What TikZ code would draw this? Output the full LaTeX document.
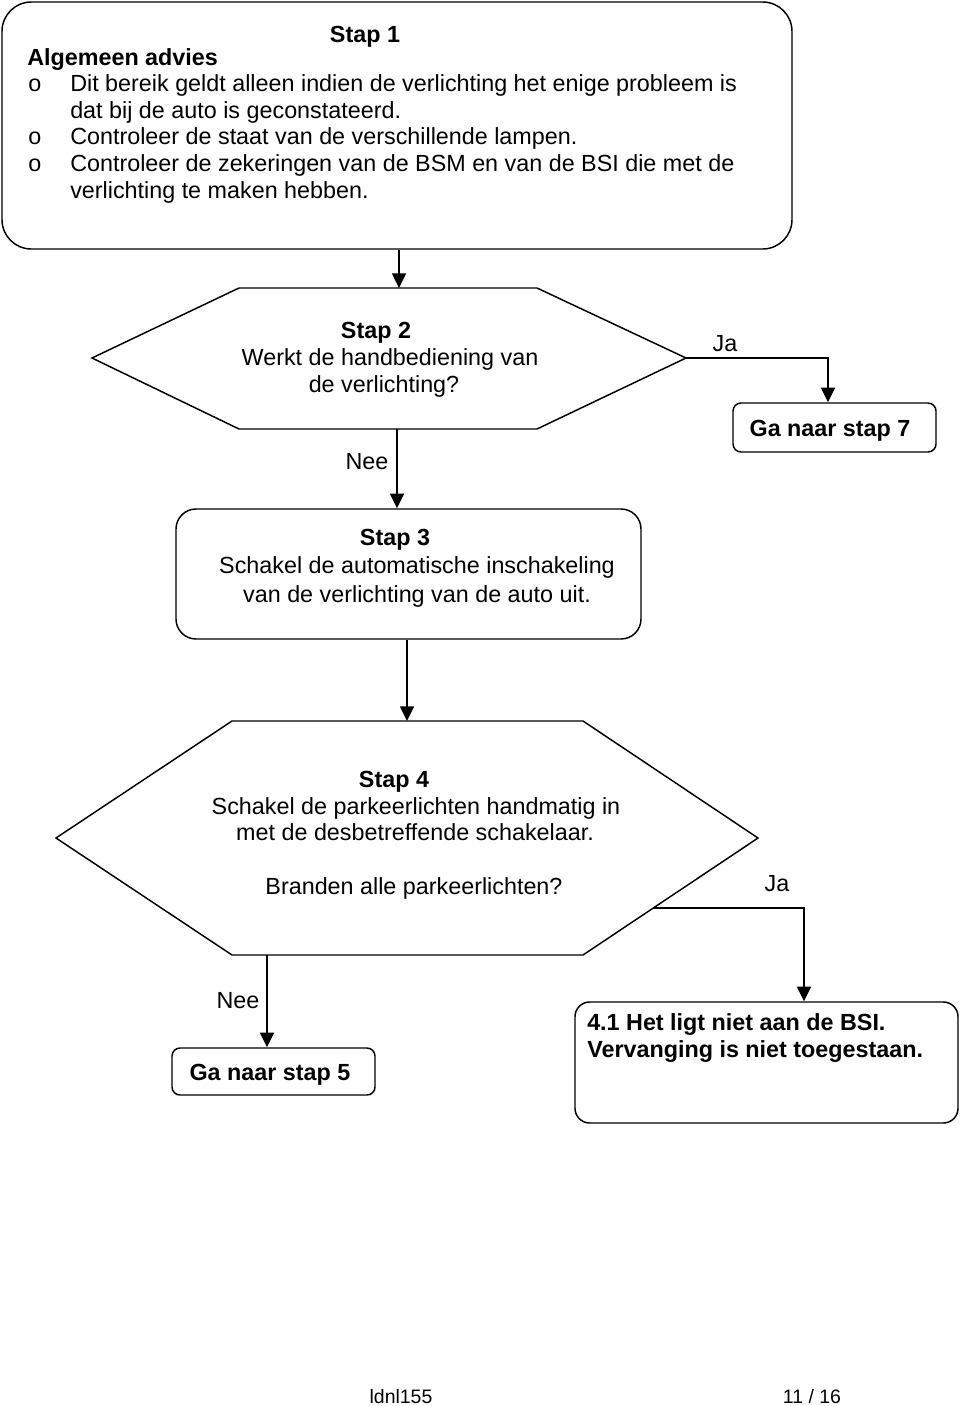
\documentclass[tikz,border=0pt]{standalone}
\usepackage{fontspec}
\setmainfont{Liberation Sans}
\usetikzlibrary{arrows.meta,fit,calc}
\begin{document}
\begin{tikzpicture}[x=0.75pt,y=-0.75pt,
  lw/.style={line width=1.1pt},
  box/.style={draw,lw,inner sep=0pt},
  arr/.style={lw,-{Triangle[length=11pt,width=10.5pt]}},
  txt/.style={font=\fontsize{17.5}{20}\selectfont,inner sep=0pt,anchor=base},
  txtb/.style={txt,font=\fontsize{17.5}{20}\selectfont\bfseries},
  txtl/.style={txt,anchor=base west},
  txtbl/.style={txtb,anchor=base west},
  foot/.style={font=\fontsize{14.6}{17}\selectfont,inner sep=0pt,anchor=base}
]
\fill[white] (0,0) rectangle (960,1406);
\useasboundingbox (0,0) rectangle (960,1406);

% Stap 1
\node[box,rounded corners=22pt,fit={(2,2)(792,249)}] (s1) {};
\node[txtb] (s1t) at (365,42) {Stap 1};
\node[txtbl] (s1a) at (27,65) {Algemeen advies};
\node[txtl] (b1) at (28,91) {o};
\node[txtl] (l1) at (70,91) {Dit bereik geldt alleen indien de verlichting het enige probleem is};
\node[txtl] (l2) at (70,118) {dat bij de auto is geconstateerd.};
\node[txtl] (b2) at (28,144) {o};
\node[txtl] (l3) at (70,144) {Controleer de staat van de verschillende lampen.};
\node[txtl] (b3b) at (28,171) {o};
\node[txtl] (l4) at (70,171) {Controleer de zekeringen van de BSM en van de BSI die met de};
\node[txtl] (l5) at (70,198) {verlichting te maken hebben.};

% Stap 2 hexagon
\coordinate (h1w) at (92,358);
\coordinate (h1nw) at (239,288);
\coordinate (h1ne) at (537,288);
\coordinate (h1e) at (686,358);
\coordinate (h1se) at (537,429);
\coordinate (h1sw) at (239,429);
\draw[lw] (h1w)--(h1nw)--(h1ne)--(h1e)--(h1se)--(h1sw)--cycle;
\coordinate (h1n) at (399,288);
\coordinate (h1s) at (397,429);
\node[txtb] (s2t) at (376,338) {Stap 2};
\node[txt] (s2a) at (390,365) {Werkt de handbediening van};
\node[txt] (s2b) at (384,392) {de verlichting?};

% Ga naar stap 7
\node[box,rounded corners=6pt,fit={(733,403)(936,452)}] (g7) {};
\node[txtb] (g7t) at (830,436) {Ga naar stap 7};
\coordinate (jx1) at (828,358);
\node[txt] (ja1) at (725,351) {Ja};

% Stap 3
\node[box,rounded corners=15pt,fit={(176,509)(641,639)}] (b3) {};
\node[txtb] (s3t) at (395,545) {Stap 3};
\node[txt] (s3a) at (417,573) {Schakel de automatische inschakeling};
\node[txt] (s3b) at (417,602) {van de verlichting van de auto uit.};
\node[txt] (nee1) at (367,469) {Nee};

% Stap 4 hexagon
\coordinate (h2w) at (56,838);
\coordinate (h2nw) at (232,721);
\coordinate (h2ne) at (583,721);
\coordinate (h2e) at (758,838);
\coordinate (h2se) at (583,955);
\coordinate (h2sw) at (232,955);
\draw[lw] (h2w)--(h2nw)--(h2ne)--(h2e)--(h2se)--(h2sw)--cycle;
\coordinate (h2n) at (407,721);
\coordinate (h2s) at (267,955);
\coordinate (h2ja) at (653,908);
\coordinate (jx2) at (804,908);
\node[txtb] (s4t) at (394,787) {Stap 4};
\node[txt] (s4a) at (416,814) {Schakel de parkeerlichten handmatig in};
\node[txt] (s4b) at (415,840) {met de desbetreffende schakelaar.};
\node[txt] (s4c) at (414,894) {Branden alle parkeerlichten?};
\node[txt] (ja2) at (777,891) {Ja};
\node[txt] (nee2) at (238,1008) {Nee};

% Ga naar stap 5
\node[box,rounded corners=6pt,fit={(172,1048)(375,1095)}] (g5) {};
\node[txtb] (g5t) at (270,1080) {Ga naar stap 5};

% 4.1
\node[box,rounded corners=11pt,fit={(575,1002)(958,1123)}] (b41) {};
\node[txtbl] (b41a) at (587,1030) {4.1 Het ligt niet aan de BSI.};
\node[txtbl] (b41b) at (587,1057) {Vervanging is niet toegestaan.};

% connectors
\draw[arr] (s1.south -| h1n) -- (h1n);
\draw[arr] (h1e) -- (jx1) -- (jx1 |- g7.north);
\draw[arr] (h1s) -- (h1s |- b3.north);
\draw[arr] (b3.south -| h2n) -- (h2n);
\draw[arr] (h2ja) -- (jx2) -- (jx2 |- b41.north);
\draw[arr] (h2s) -- (h2s |- g5.north);

% footer
\node[foot] (f1) at (401,1403) {ldnl155};
\node[foot] (f2) at (812,1403) {11 / 16};
\end{tikzpicture}
\end{document}
